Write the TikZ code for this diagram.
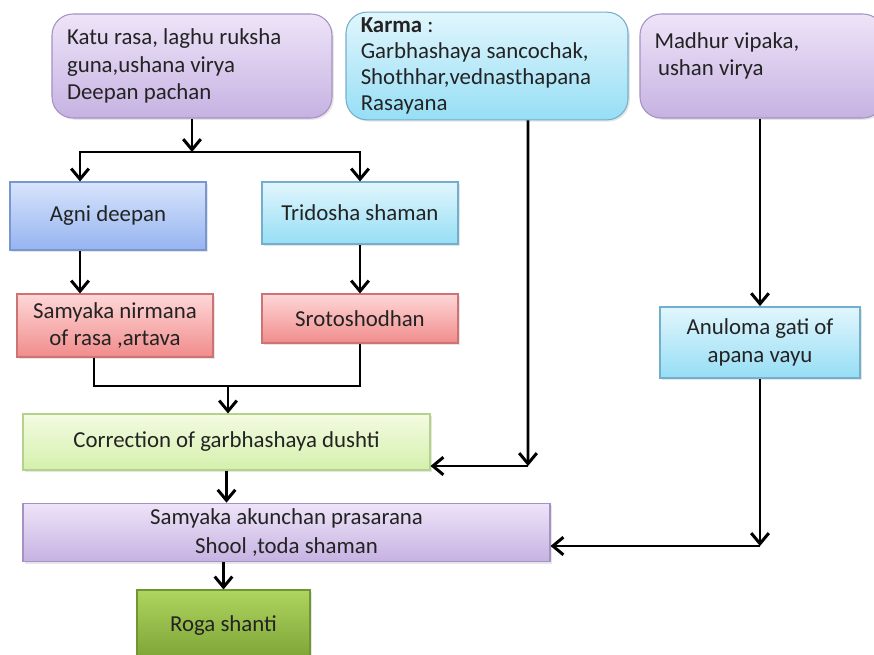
\documentclass[tikz,border=0pt]{standalone}
\usepackage{fontspec}
\setmainfont{Carlito}
\definecolor{txtgray}{RGB}{35,35,35}
\definecolor{purtop}{RGB}{238,228,248}
\definecolor{purbot}{RGB}{198,178,226}
\definecolor{purline}{RGB}{165,145,195}
\definecolor{cyatop}{RGB}{225,246,253}
\definecolor{cyabot}{RGB}{150,222,245}
\definecolor{cyaline}{RGB}{115,175,205}
\definecolor{blutop}{RGB}{215,228,252}
\definecolor{blubot}{RGB}{150,180,240}
\definecolor{bluline}{RGB}{120,150,210}
\definecolor{redtop}{RGB}{255,215,215}
\definecolor{redbot}{RGB}{240,140,140}
\definecolor{redline}{RGB}{205,115,115}
\definecolor{gretop}{RGB}{244,251,226}
\definecolor{grebot}{RGB}{212,240,172}
\definecolor{greline}{RGB}{180,210,140}
\definecolor{dgrtop}{RGB}{175,212,95}
\definecolor{dgrbot}{RGB}{122,162,52}
\definecolor{dgrline}{RGB}{110,150,50}
\usetikzlibrary{arrows.meta,positioning,shadows}

\begin{document}
\begin{tikzpicture}[
  txtbox/.style={rectangle, rounded corners=12pt, line width=0.6pt,
                 font=\fontsize{13}{15.5}\selectfont, text=txtgray, align=flush left,
                 drop shadow={opacity=0.2, shadow xshift=1pt, shadow yshift=-1pt}},
  stepbox/.style={rectangle, line width=0.6pt,
                 font=\fontsize{13}{15.5}\selectfont, text=txtgray, align=center,
                 drop shadow={opacity=0.2, shadow xshift=1pt, shadow yshift=-1pt}},
  purfill/.style={draw=purline, top color=purtop, bottom color=purbot},
  cyafill/.style={draw=cyaline, top color=cyatop, bottom color=cyabot},
  blufill/.style={draw=bluline, top color=blutop, bottom color=blubot},
  redfill/.style={draw=redline, top color=redtop, bottom color=redbot},
  grefill/.style={draw=greline, top color=gretop, bottom color=grebot},
  dgrfill/.style={draw=dgrline, top color=dgrtop, bottom color=dgrbot},
  farr/.style={-{Straight Barb[length=6pt,width=10pt]}, line width=1.7pt},
  fline/.style={line width=1.7pt}
]
\useasboundingbox (0,0) rectangle (17.48,-13.1);
\begin{scope}
\clip (0,0) rectangle (17.48,-13.1);

% Top row
\node[txtbox, purfill, minimum width=5.6cm, minimum height=2.08cm, text width=5.0cm]
  (katu) at (3.84,-1.32) {Katu rasa, laghu ruksha\\guna,ushana virya\\Deepan pachan};
\node[txtbox, cyafill, minimum width=5.64cm, minimum height=2.08cm, text width=5.05cm,
      font=\fontsize{13}{14.7}\selectfont]
  (karma) at (9.74,-1.32) {\textbf{Karma} :\\Garbhashaya sancochak,\\Shothhar,vednasthapana\\Rasayana};
\node[txtbox, purfill, minimum width=4.88cm, minimum height=2.08cm, text width=4.3cm]
  (madhur) at (15.24,-1.32) {Madhur vipaka,\\\hspace*{2pt}ushan virya\\[-2pt]\mbox{}};

% Middle boxes
\node[stepbox, blufill, minimum width=3.92cm, minimum height=1.36cm] (agni) at (2.16,-4.32) {Agni deepan};
\node[stepbox, cyafill, minimum width=3.92cm, minimum height=1.24cm] (tri)  at (7.2,-4.26)  {Tridosha shaman};
\node[stepbox, redfill, minimum width=3.92cm, minimum height=1.26cm] (nirm) at (2.3,-6.51)  {Samyaka nirmana\\of rasa ,artava};
\node[stepbox, redfill, minimum width=3.92cm, minimum height=0.98cm] (sroto) at (7.2,-6.37) {Srotoshodhan};
\node[stepbox, cyafill, minimum width=4.0cm, minimum height=1.42cm, line width=1pt] (anu) at (15.2,-6.85) {Anuloma gati of\\apana vayu};

% Bottom boxes
\node[stepbox, grefill, minimum width=8.14cm, minimum height=1.12cm] (corr) at (4.53,-8.84) {Correction of garbhashaya dushti};
\node[stepbox, purfill, minimum width=10.54cm, minimum height=1.1cm,
      font=\fontsize{13}{16}\selectfont] (akun) at (5.73,-10.65) {Samyaka akunchan prasarana\\Shool ,toda shaman};
\node[stepbox, dgrfill, minimum width=3.46cm, minimum height=1.44cm] (roga) at (4.47,-12.52) {Roga shanti};

% Corner points
\coordinate (split) at (katu.south |- 0,-3.04);
\coordinate (join)  at (4.56,-7.72);
\coordinate (kc)    at (10.56,-9.32);
\coordinate (ac)    at (15.2,-10.92);

% Arrows
\draw[farr]  (katu.south) -- (split);
\draw[farr]  (split) -| ([xshift=-0.56cm]agni.north);
\draw[farr]  (split) -| (tri.north);
\draw[farr]  ([xshift=-0.56cm]agni.south) -- ([xshift=-0.56cm]agni.south |- nirm.north);
\draw[farr]  (tri.south) -- (sroto.north);
\draw[fline] ([xshift=-0.42cm]nirm.south) |- (join) -| (sroto.south);
\draw[farr]  (join) -- (join |- corr.north);
\draw[farr]  ([xshift=0.82cm]karma.south) -- (kc);
\draw[farr]  (kc) -- (kc -| corr.east);
\draw[farr]  (corr.south) -- (corr.south |- akun.north);
\draw[farr]  (anu.north |- madhur.south) -- (anu.north);
\draw[farr]  (anu.south) -- (ac);
\draw[farr]  (ac) -- (ac -| akun.east);
\draw[farr]  (roga.north |- akun.south) -- (roga.north);
\end{scope}
\end{tikzpicture}
\end{document}
